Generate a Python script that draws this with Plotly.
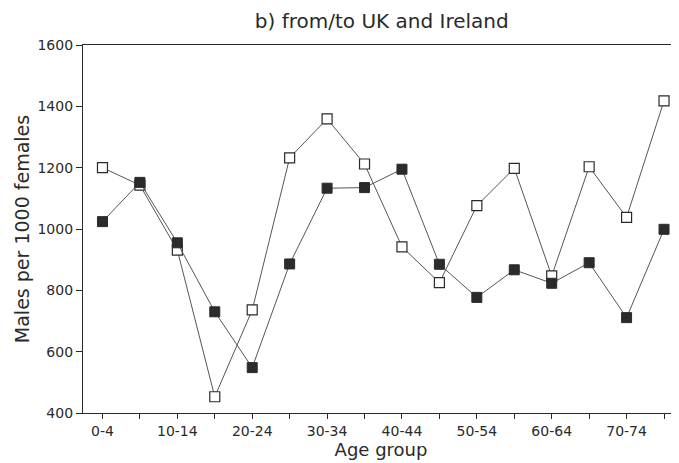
import plotly.graph_objects as go

age_groups = ["0-4", "5-9", "10-14", "15-19", "20-24", "25-29", "30-34", "35-39",
              "40-44", "45-49", "50-54", "55-59", "60-64", "65-69", "70-74", "75+"]
open_series = [1200, 1143, 931, 453, 736, 1232, 1359, 1212,
               942, 825, 1076, 1198, 847, 1203, 1038, 1418]
filled_series = [1024, 1152, 955, 730, 548, 886, 1133, 1135,
                 1195, 885, 777, 867, 823, 890, 711, 999]
tick_labels = [g if i % 2 == 0 and i < 15 else "" for i, g in enumerate(age_groups)]

x = list(range(len(age_groups)))
ink = "#2a2a2a"
font = "DejaVu Sans"

fig = go.Figure()
fig.add_trace(go.Scatter(
    x=x, y=open_series, mode="lines+markers", name="open",
    line=dict(color="#555555", width=1),
    marker=dict(symbol="square", size=10, color="white",
                line=dict(color=ink, width=1.2)),
))
fig.add_trace(go.Scatter(
    x=x, y=filled_series, mode="lines+markers", name="filled",
    line=dict(color="#555555", width=1),
    marker=dict(symbol="square", size=10, color="#2b2b2b",
                line=dict(color="#2b2b2b", width=1)),
))

# page body adds an 8px offset, so the figure is sized to fill the rest of the window
fig.update_layout(
    width=671, height=455,
    margin=dict(l=75, r=0, t=37, b=50),
    paper_bgcolor="white", plot_bgcolor="white",
    showlegend=False,
    font=dict(family=font, color=ink, size=12),
    title=dict(text="b) from/to UK and Ireland", x=0.557, xanchor="center",
               y=0.972, yanchor="middle", font=dict(size=20, color=ink, family=font)),
    xaxis=dict(
        range=[-0.52, 15.4], tickmode="array", tickvals=x, ticktext=tick_labels,
        showline=True, linecolor=ink, linewidth=1.2, mirror=True, automargin=False,
        ticks="outside", ticklen=5, tickcolor=ink, showgrid=False, zeroline=False,
        tickfont=dict(size=14), title=dict(text="Age group", font=dict(size=18), standoff=4),
    ),
    yaxis=dict(
        range=[400, 1600], tickvals=[400, 600, 800, 1000, 1200, 1400, 1600],
        showline=True, linecolor=ink, linewidth=1.2, automargin=False,
        ticks="outside", ticklen=6, tickcolor=ink, showgrid=False, zeroline=False,
        tickfont=dict(size=14),
        title=dict(text="Males per 1000 females", font=dict(size=19), standoff=2),
    ),
)

fig.write_html("out.html")
